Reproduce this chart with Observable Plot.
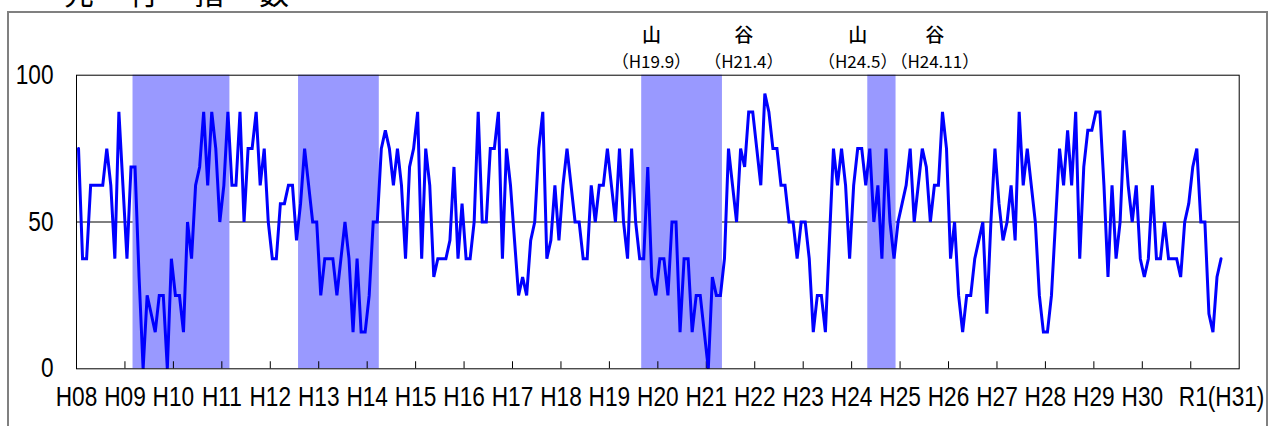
<!DOCTYPE html>
<html>
<head>
<meta charset="utf-8">
<script src="https://cdn.jsdelivr.net/npm/d3@7"></script>
<script src="https://cdn.jsdelivr.net/npm/@observablehq/plot@0.6"></script>
<style>
  html, body { margin: 0; padding: 0; background: #fff; overflow: hidden; }
  #wrap { position: relative; width: 1271px; height: 426px; overflow: hidden; }
  #outer { position: absolute; left: 7px; top: 11px; width: 1261px; height: 460px;
           border: 2px solid #808080; box-sizing: border-box; }
  #title { position: absolute; left: 64px; top: -24px; font-family: "Noto Sans CJK JP", sans-serif;
           font-size: 30px; line-height: 30px; letter-spacing: 35px; color: #000; white-space: nowrap; }
  #chart { position: absolute; left: 0; top: 0; }
</style>
</head>
<body>
<div id="wrap">
  <div id="outer"></div>
  <div id="title">先行指数</div>
  <div id="chart"></div>
</div>
<script>
// Year labels (one per January, starting H08 = 1996)
const yearLabels = ["H08","H09","H10","H11","H12","H13","H14","H15","H16","H17","H18","H19",
                    "H20","H21","H22","H23","H24","H25","H26","H27","H28","H29","H30","R1(H31)"];

// Monthly leading diffusion index, Jan 1996 .. Aug 2019
const di = [
  75, 37.5, 37.5, 62.5, 62.5, 62.5, 62.5, 75, 62.5, 37.5, 87.5, 62.5,        // H08
  37.5, 68.75, 68.75, 31.25, 0, 25, 18.75, 12.5, 25, 25, 0, 37.5,            // H09
  25, 25, 12.5, 50, 37.5, 62.5, 68.75, 87.5, 62.5, 87.5, 75, 50,             // H10
  62.5, 87.5, 62.5, 62.5, 87.5, 50, 75, 75, 87.5, 62.5, 75, 50,              // H11
  37.5, 37.5, 56.25, 56.25, 62.5, 62.5, 43.75, 56.25, 75, 62.5, 50, 50,      // H12
  25, 37.5, 37.5, 37.5, 25, 37.5, 50, 37.5, 12.5, 37.5, 12.5, 12.5,          // H13
  25, 50, 50, 75, 81.25, 75, 62.5, 75, 62.5, 37.5, 68.75, 75,                // H14
  87.5, 37.5, 75, 62.5, 31.25, 37.5, 37.5, 37.5, 43.75, 68.75, 37.5, 56.25,  // H15
  37.5, 37.5, 50, 87.5, 50, 50, 75, 75, 87.5, 37.5, 75, 62.5,                // H16
  43.75, 25, 31.25, 25, 43.75, 50, 75, 87.5, 37.5, 43.75, 62.5, 43.75,       // H17
  62.5, 75, 62.5, 50, 50, 37.5, 37.5, 62.5, 50, 62.5, 62.5, 75,              // H18
  62.5, 50, 75, 50, 37.5, 75, 50, 37.5, 37.5, 68.75, 31.25, 25,              // H19
  37.5, 37.5, 25, 50, 50, 12.5, 37.5, 37.5, 12.5, 25, 25, 12.5,              // H20
  0, 31.25, 25, 25, 37.5, 75, 62.5, 50, 75, 68.75, 87.5, 87.5,               // H21
  75, 62.5, 93.75, 87.5, 75, 75, 62.5, 62.5, 50, 50, 37.5, 50,               // H22
  50, 37.5, 12.5, 25, 25, 12.5, 43.75, 75, 62.5, 75, 62.5, 37.5,             // H23
  62.5, 75, 75, 62.5, 75, 50, 62.5, 37.5, 75, 50, 37.5, 50,                  // H24
  56.25, 62.5, 75, 50, 62.5, 75, 68.75, 50, 62.5, 62.5, 87.5, 75,            // H25
  37.5, 50, 25, 12.5, 25, 25, 37.5, 43.75, 50, 18.75, 50, 75,                // H26
  56.25, 43.75, 50, 62.5, 43.75, 87.5, 62.5, 75, 62.5, 50, 25, 12.5,         // H27
  12.5, 25, 50, 75, 62.5, 81.25, 62.5, 87.5, 37.5, 68.75, 81.25, 81.25,      // H28
  87.5, 87.5, 62.5, 31.25, 62.5, 37.5, 50, 81.25, 62.5, 50, 62.5, 37.5,      // H29
  31.25, 37.5, 62.5, 37.5, 37.5, 50, 37.5, 37.5, 37.5, 31.25, 50, 56.25,     // H30
  68.75, 75, 50, 50, 18.75, 12.5, 31.25, 37.5                                // R1
];

// Shaded contraction periods, in months counted from Jan 1996 (start inclusive, end exclusive)
const shadeStart = [14, 55, 140, 196];
const shadeEnd   = [38, 75, 160, 203];

// Turning-point annotations (month position from Jan 1996)
const turnKind = ["山", "谷", "山", "谷"];
const turnDate = ["（H19.9）", "（H21.4）", "（H24.5）", "（H24.11）"];
const turnPos  = [142.4, 165.3, 193.5, 212.6];

const yTicks = [0, 50, 100];

const points = di.map((v, i) => ({m: i + 0.5, v}));
const shades = shadeStart.map((s, k) => ({s, e: shadeEnd[k]}));
const years = yearLabels.map((label, k) => ({m: k * 12, label}));
const innerTicks = years.slice(1).map(d => d.m);
const turns = turnKind.map((k, i) => ({m: turnPos[i], kind: k, date: turnDate[i]}));

const numFont = "'Liberation Sans', Arial, sans-serif";
const cjkFont = "'Noto Sans CJK JP', sans-serif";

const chart = Plot.plot({
  width: 1271,
  height: 426,
  marginLeft: 76,
  marginRight: 32.3,
  marginTop: 74.7,
  marginBottom: 57.7,
  x: {domain: [0, 288], axis: null},
  y: {domain: [0, 100], axis: null},
  style: {background: "transparent", overflow: "visible"},
  marks: [
    Plot.ruleY([50], {stroke: "#000", strokeWidth: 1}),
    Plot.rect(shades, {x1: "s", x2: "e", y1: 0, y2: 100, fill: "#9999ff"}),
    Plot.ruleX(innerTicks, {x: d => d, y1: 0, y2: 2.4, stroke: "#000", strokeWidth: 1}),
    Plot.lineY(points, {x: "m", y: "v", stroke: "#0000ff", strokeWidth: 3, strokeLinejoin: "miter", strokeMiterlimit: 3}),
    Plot.frame({stroke: "#000", strokeWidth: 1}),
    Plot.text(yTicks, {y: d => d, frameAnchor: "left", dx: -23, textAnchor: "end", lineAnchor: "middle",
      text: d => String(d), fontSize: 27, fontFamily: numFont, fill: "#000"}),
    Plot.text(years.slice(0, -1), {x: "m", frameAnchor: "bottom", dy: 29, lineAnchor: "middle", text: "label",
      fontSize: 27, fontFamily: numFont, fill: "#000"}),
    Plot.text(years.slice(-1), {x: "m", frameAnchor: "bottom", dy: 29, dx: -12, textAnchor: "start",
      lineAnchor: "middle", text: "label", fontSize: 27, fontFamily: numFont, fill: "#000"}),
    Plot.text(turns, {x: "m", frameAnchor: "top", dy: -39, lineAnchor: "middle", text: "kind",
      fontSize: 19, fontWeight: 500, fontFamily: cjkFont, fill: "#000"}),
    Plot.text(turns, {x: "m", frameAnchor: "top", dy: -13, lineAnchor: "middle", text: "date",
      fontSize: 17, fontFamily: cjkFont, fill: "#000"})
  ]
});
document.getElementById("chart").appendChild(chart);

// Condense the large numeric labels to mimic the narrow half-width font of the original
chart.querySelectorAll('g[font-size="27"] text').forEach(t => {
  const tr = t.getAttribute("transform");
  if (tr) {
    t.setAttribute("transform", tr + " scale(0.84,1)");
  } else {
    const w = t.getComputedTextLength();
    t.setAttribute("textLength", (w * 0.84).toFixed(1));
    t.setAttribute("lengthAdjust", "spacingAndGlyphs");
  }
});
</script>
</body>
</html>
